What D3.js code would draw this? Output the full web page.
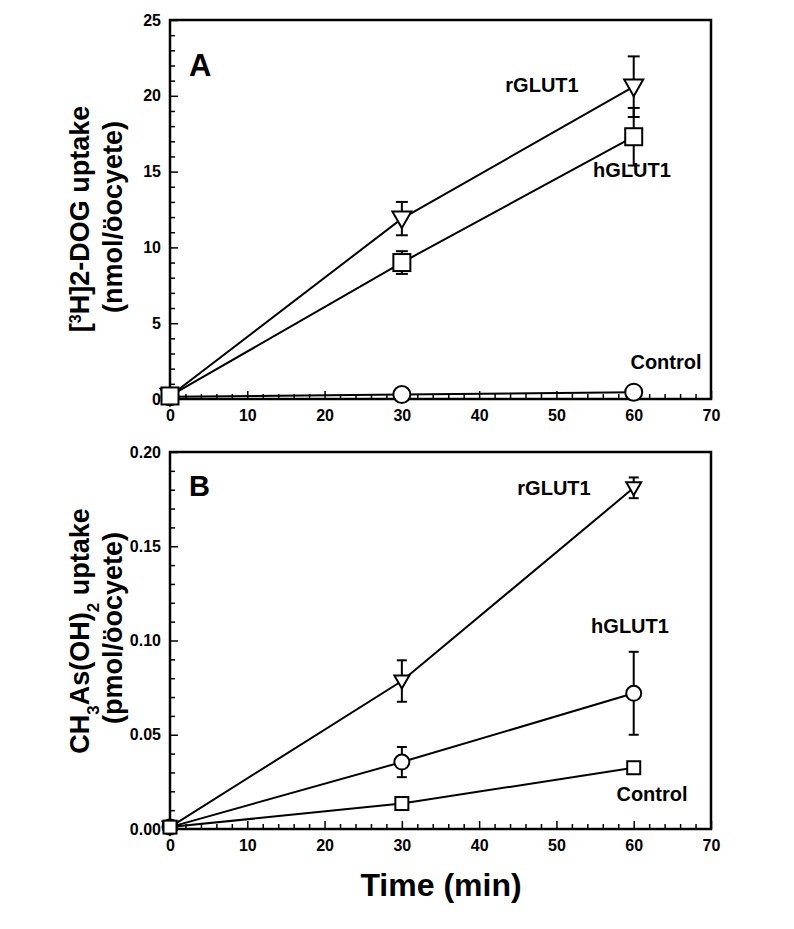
<!DOCTYPE html>
<html><head><meta charset="utf-8">
<script src="https://cdn.jsdelivr.net/npm/d3@7"></script>
<style>body{margin:0;background:#fff}svg text{font-family:"Liberation Sans",Arial,sans-serif;font-weight:bold;fill:#000}</style>
</head><body><svg id="c" width="794" height="929"></svg>
<script>
// ---- data ----
const times = [0, 30, 60];
// Panel A: [3H]2-DOG uptake (nmol/oocyte)
const aR = [0.2, 11.9, 20.6], aRerr = [0, 1.1, 2.0];
const aH = [0.2, 9.0, 17.3], aHerr = [0, 0.75, 1.9];
const aC = [0.15, 0.3, 0.45], aCerr = [0, 0, 0];
// Panel B: CH3As(OH)2 uptake (pmol/oocyte)
const bR = [0.001, 0.0785, 0.181], bRerr = [0, 0.011, 0.0055];
const bH = [0.001, 0.0355, 0.072], bHerr = [0, 0.0080, 0.022];
const bC = [0.001, 0.0135, 0.0325], bCerr = [0, 0, 0];
const xTicks = [0, 10, 20, 30, 40, 50, 60, 70];
const aYTicks = [0, 5, 10, 15, 20, 25];
const bYTicks = [0, 0.05, 0.10, 0.15, 0.20];

const svg = d3.select("#c");

function panel(cfg) {
  const x = d3.scaleLinear().domain([0, 70]).range([cfg.left, cfg.right]);
  const y = d3.scaleLinear().domain(cfg.ydom).range([cfg.bottom, cfg.top]);
  const g = svg.append("g");
  g.append("rect").attr("x", cfg.left).attr("y", cfg.top)
    .attr("width", cfg.right - cfg.left).attr("height", cfg.bottom - cfg.top)
    .attr("fill", "none").attr("stroke", "#000").attr("stroke-width", 2.5);
  const xa = g.append("g").attr("transform", `translate(0,${cfg.bottom})`)
    .call(d3.axisBottom(x).tickValues(xTicks).tickSize(-8).tickPadding(11).tickFormat(d3.format("d")));
  xa.select(".domain").remove();
  xa.selectAll("line").attr("stroke-width", 1.5);
  xa.selectAll("text").attr("font-size", 16);
  const xm = g.append("g").attr("transform", `translate(0,${cfg.bottom})`)
    .call(d3.axisBottom(x).tickValues(d3.range(0, 71, 2).filter(v => v % 10)).tickSize(-5).tickFormat(""));
  xm.select(".domain").remove();
  xm.selectAll("line").attr("stroke-width", 1.5);
  const ya = g.append("g").attr("transform", `translate(${cfg.left},0)`)
    .call(d3.axisLeft(y).tickValues(cfg.yticks).tickSize(-8).tickPadding(9).tickFormat(cfg.yfmt));
  ya.select(".domain").remove();
  ya.selectAll("line").attr("stroke-width", 1.5);
  ya.selectAll("text").attr("font-size", 16);
  const ym = g.append("g").attr("transform", `translate(${cfg.left},0)`)
    .call(d3.axisLeft(y).tickValues(cfg.yminor).tickSize(-5).tickFormat(""));
  ym.select(".domain").remove();
  ym.selectAll("line").attr("stroke-width", 1.5);

  const line = d3.line().x((d, i) => x(times[i])).y(d => y(d));
  cfg.series.forEach(s => {
    g.append("path").datum(s.v).attr("d", line).attr("fill", "none")
      .attr("stroke", "#000").attr("stroke-width", 2);
  });
  cfg.series.forEach(s => {
    s.v.forEach((v, i) => {
      const e = s.e[i];
      if (e > 0) {
        const cx = x(times[i]);
        g.append("line").attr("x1", cx).attr("x2", cx).attr("y1", y(v - e)).attr("y2", y(v + e))
          .attr("stroke", "#000").attr("stroke-width", 2);
        [v - e, v + e].forEach(w => g.append("line").attr("x1", cx - cfg.cap).attr("x2", cx + cfg.cap)
          .attr("y1", y(w)).attr("y2", y(w)).attr("stroke", "#000").attr("stroke-width", 2));
      }
    });
  });
  cfg.series.forEach(s => {
    s.v.forEach((v, i) => {
      const cx = x(times[i]), cy = y(v), r = s.r;
      let m;
      if (s.shape === "circle") m = g.append("circle").attr("cx", cx).attr("cy", cy).attr("r", r);
      else if (s.shape === "square") m = g.append("rect").attr("x", cx - r).attr("y", cy - r).attr("width", 2 * r).attr("height", 2 * r);
      else m = g.append("path").attr("d", `M${cx - r},${cy - r * 0.75}L${cx + r},${cy - r * 0.75}L${cx},${cy + r}Z`);
      m.attr("fill", "#fff").attr("stroke", "#000").attr("stroke-width", 2);
    });
  });
  cfg.labels.forEach(l => g.append("text").attr("x", l[1]).attr("y", l[2])
    .attr("text-anchor", "middle").attr("font-size", 20).text(l[0]));
  g.append("text").attr("x", cfg.tagPos[0]).attr("y", cfg.tagPos[1]).attr("font-size", cfg.tagSize).text(cfg.tag);
  return g;
}

panel({
  left: 170, right: 711, top: 20, bottom: 399, ydom: [0, 25],
  yticks: aYTicks, yminor: d3.range(0, 26).filter(v => v % 5), yfmt: d3.format("d"), cap: 6,
  series: [
    {v: aC, e: aCerr, shape: "circle", r: 8.5},
    {v: aR, e: aRerr, shape: "tri", r: 9.5},
    {v: aH, e: aHerr, shape: "square", r: 8.5}
  ],
  labels: [["rGLUT1", 542, 92], ["hGLUT1", 632, 177], ["Control", 666, 369]],
  tag: "A", tagPos: [189, 76], tagSize: 31
});
panel({
  left: 170, right: 711, top: 452, bottom: 829, ydom: [0, 0.2],
  yticks: bYTicks, yminor: d3.range(1, 20).filter(v => v % 5).map(v => v / 100), yfmt: d3.format(".2f"), cap: 5,
  series: [
    {v: bR, e: bRerr, shape: "tri", r: 7.5},
    {v: bH, e: bHerr, shape: "circle", r: 7.5},
    {v: bC, e: bCerr, shape: "square", r: 6.5}
  ],
  labels: [["rGLUT1", 554, 495], ["hGLUT1", 630, 633], ["Control", 652, 801]],
  tag: "B", tagPos: [189, 496], tagSize: 29
});

function ytitle(cx, cy, build) {
  const t = svg.append("text").attr("transform", `translate(${cx},${cy}) rotate(-90)`)
    .attr("text-anchor", "middle").attr("font-size", 27);
  build(t);
}
ytitle(89, 219, t => { t.append("tspan").text("["); t.append("tspan").attr("baseline-shift", "super").attr("font-size", 16).text("3");
  t.append("tspan").text("H]2-DOG uptake"); });
ytitle(122, 217, t => t.text("(nmol/öocyete)"));
ytitle(89, 631, t => { t.append("tspan").text("CH"); t.append("tspan").attr("baseline-shift", "sub").attr("font-size", 17).text("3");
  t.append("tspan").text("As(OH)"); t.append("tspan").attr("baseline-shift", "sub").attr("font-size", 17).text("2");
  t.append("tspan").text(" uptake"); });
ytitle(122, 628, t => t.text("(pmol/öocyete)"));
svg.append("text").attr("x", 441).attr("y", 896).attr("text-anchor", "middle").attr("font-size", 32).text("Time (min)");
</script></body></html>
